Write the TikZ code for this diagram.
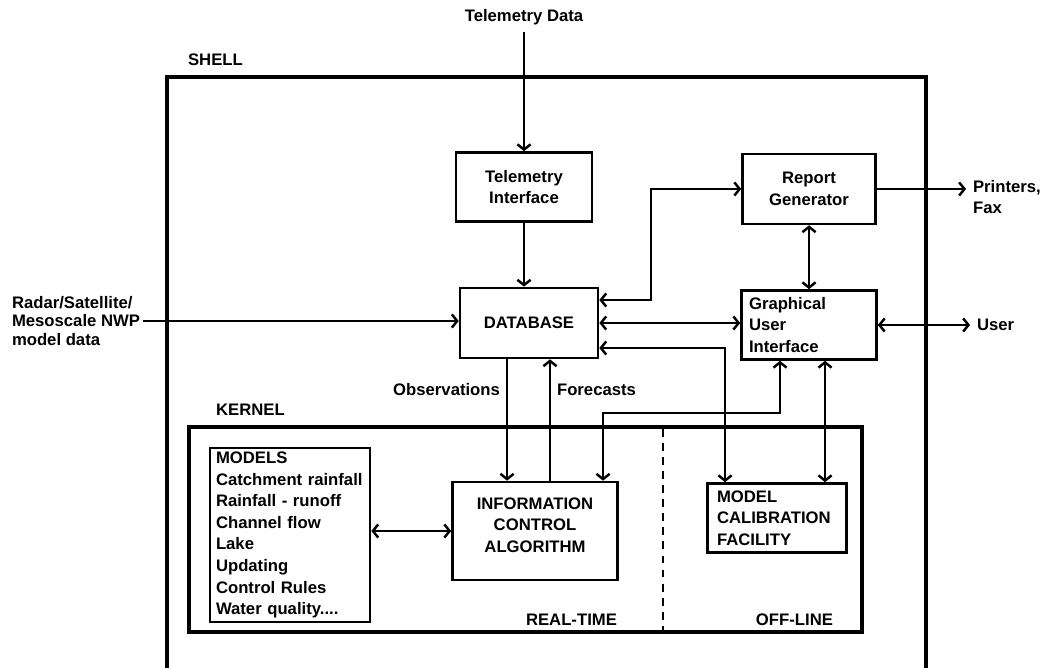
\documentclass[tikz,border=0pt]{standalone}
\usepackage{fontspec}
\setmainfont{Liberation Sans}
\usetikzlibrary{arrows.meta,calc,positioning}

\tikzset{
  box/.style={draw, line width=1.5pt, align=center},
  leftbox/.style={box, align=left},
  frame/.style={line width=2.3pt},
  partline/.style={line width=1.3pt, dash pattern=on 4.5pt off 3.5pt}
}

\begin{document}
\begin{tikzpicture}[x=0.02cm, y=-0.02cm, line width=1.4pt,
    font=\fontsize{9.5}{12.3}\selectfont\bfseries,
    >={Straight Barb[length=3pt,width=7.5pt]}]
\useasboundingbox (0,0) rectangle (1040,668);

\draw[frame] (167,668) |- (926,77) -- (926,668);
\node[anchor=west] (shell) at (181,60) {SHELL};
\draw[frame] (189,427) rectangle (862,632);
\node[anchor=west] (kernel) at (209,410) {KERNEL};
\draw[partline] (663,429) -- (663,630);
\node[anchor=east] (rt) at (624,620) {REAL-TIME};
\node[anchor=east] (ol) at (840,620) {OFF-LINE};

\node (tdata) at (524,17) {Telemetry Data};
\node[box, minimum width=2.72cm, minimum height=1.38cm] (tif) at (524,187) {Telemetry\\Interface};
\node[box, minimum width=2.76cm, minimum height=1.4cm] (db) at (529,323) {DATABASE};
\node[box, minimum width=2.66cm, minimum height=1.4cm] (rep) at (809,189) {Report\\Generator};
\node[leftbox, minimum width=2.7cm, minimum height=1.38cm, text width=2.4cm] (gui) at (809,325) {Graphical\\User\\Interface};
\node[anchor=east, align=left, inner sep=1pt, font=\fontsize{9.5}{10.5}\selectfont\bfseries] (radar) at (143,321) {Radar/Satellite/\\Mesoscale NWP\\model data};
\node[anchor=west, align=left, font=\fontsize{9.5}{11.5}\selectfont\bfseries] (prn) at (966,197) {Printers,\\Fax};
\node[anchor=west] (usr) at (970,325) {User};

\node[leftbox, minimum width=3.2cm, minimum height=3.48cm, text width=2.96cm, inner ysep=1pt] (mods) at (290,535)
  {MODELS\\Catchment rainfall\\Rainfall - runoff\\Channel flow\\Lake\\Updating\\Control Rules\\Water quality....};
\node[box, minimum width=3.3cm, minimum height=1.96cm] (ica) at (535,531) {INFORMATION\\CONTROL\\ALGORITHM\\[-5.5pt]\mbox{}};
\node[leftbox, minimum width=2.78cm, minimum height=1.38cm, text width=2.4cm] (mcf) at (777,518) {MODEL\\CALIBRATION\\FACILITY};

\draw[->] (tdata) -- (tif);
\draw[->] (tif) -- (tif |- db.north);
\draw[->] (radar.east) -- (radar.east -| db.west);
\draw[<->] ($(db.east)+(0,-23)$) -| ($(rep.west)+(-90,0)$) -- (rep.west);
\draw[<->] (db.east) -- (db.east -| gui.west);
\draw[<->] (rep) -- (gui);
\draw[->] (rep.east) -- (rep.east -| prn.west);
\draw[<->] (gui.east) -- (gui.east -| usr.west);

\coordinate (obs) at ($(db.south)+(-22,0)$);
\coordinate (fc) at ($(db.south)+(21,0)$);
\draw[->] (obs) -- (obs |- ica.north) node[pos=0.25, left] {Observations};
\draw[->] (fc |- ica.north) -- (fc) node[pos=0.75, right] {Forecasts};
\draw[<->] ($(gui.south)+(-29,0)$) -- ++(0,52) -| ($(ica.north)+(68,0)$);
\draw[<->] ($(db.east)+(0,25)$) -| ($(mcf.north)+(-52,0)$);
\coordinate (cal) at ($(gui.south)+(16,0)$);
\draw[<->] (cal) -- (cal |- mcf.north);
\draw[<->] (mods.east |- ica.west) -- (ica.west);
\end{tikzpicture}
\end{document}
